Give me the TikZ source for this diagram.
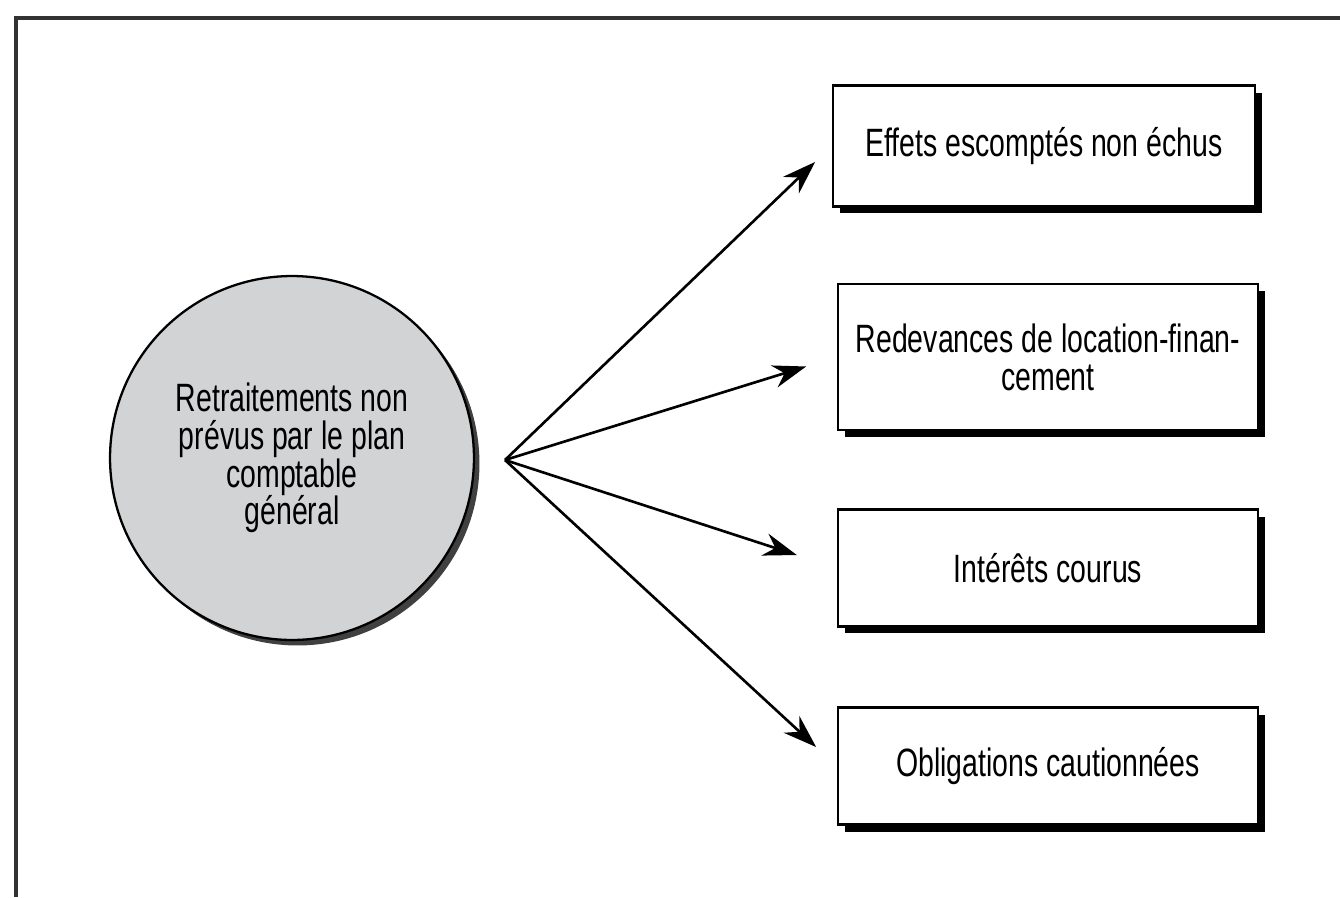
\documentclass[tikz,border=0pt]{standalone}
\usepackage{fontspec}
\setmainfont{Liberation Sans}[FakeStretch=0.72]
\usetikzlibrary{arrows.meta,shadows}
\definecolor{disc}{RGB}{210,211,213}

\begin{document}
\begin{tikzpicture}[x=0.02cm, y=-0.02cm]
        \tikzset{box/.style={draw, line width=1.5pt, fill=white, align=center,
                minimum width=8.4cm, minimum height=2.34cm,
                font=\fontsize{22.5}{21.5}\selectfont,
                drop shadow={shadow xshift=0.14cm, shadow yshift=-0.14cm, fill=black, opacity=1}},
                link/.style={-{Stealth[length=19pt, width=13pt]}, line width=1.5pt}}
        \useasboundingbox (0,0) rectangle (1340,897);
        % frame
        \draw[line width=1.8pt, black!80] (16,897) -- (16,18) -- (1340,18);

        % central disc
        \node[circle, draw, line width=1.3pt, fill=disc, minimum size=7.28cm, align=center,
              font=\fontsize{22.5}{21.5}\selectfont,
              drop shadow={shadow xshift=0.11cm, shadow yshift=-0.11cm, fill=black!75, opacity=1}]
              (core) at (292,458) {Retraitements non\\prévus par le plan\\comptable\\général};
        \coordinate (hub) at (505,460);

        % boxes
        \node[box, minimum width=8.44cm, minimum height=2.42cm] (effets) at (1044,146) {Effets escomptés non échus};
        \node[box, minimum height=2.92cm] (redev) at (1048,357) {Redevances de location-finan-\\cement};
        \node[box] (inter) at (1048,568) {Intérêts courus};
        \node[box] (oblig) at (1048,766) {Obligations cautionnées};

        % arrows
        \draw[link, shorten >=0.46cm] (hub) -- (effets.west);
        \draw[link, shorten >=0.64cm] (hub) -- (redev.west);
        \draw[link, shorten >=0.84cm] (hub) -- (inter.west);
        \draw[link, shorten >=0.56cm] (hub) -- (oblig.west);
\end{tikzpicture}
\end{document}
